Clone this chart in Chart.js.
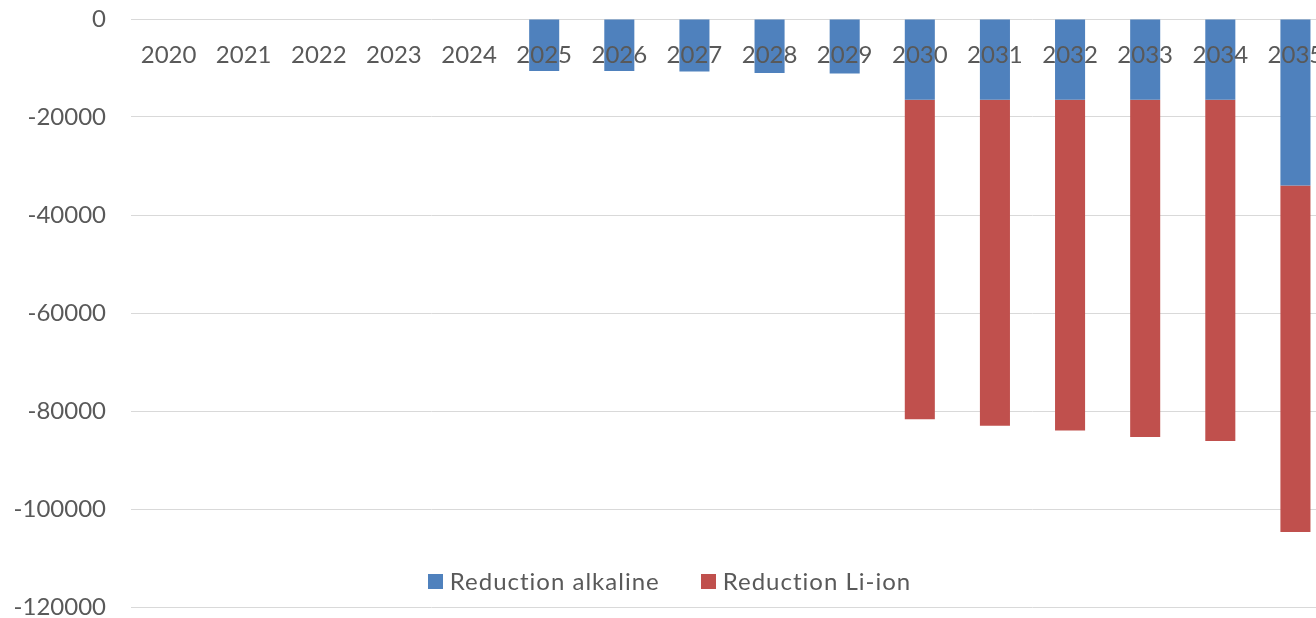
<!DOCTYPE html>
<html>
<head>
<meta charset="utf-8">
<script src="https://cdn.jsdelivr.net/npm/chart.js@4.4.1/dist/chart.umd.min.js"></script>
<style>
  html, body { margin: 0; padding: 0; background: #fff; overflow: hidden; }
  #wrap { position: relative; width: 1333px; height: 618px; }
  #legend { position: absolute; left: 0; width: 1339px; top: 566px; display: flex; justify-content: center; gap: 41px;
            font-family: Lato, "Noto Sans", sans-serif; font-size: 24px; letter-spacing: 1px; color: #595959; line-height: 30px; }
  .item { display: flex; align-items: center; }
  .sw { width: 15px; height: 15px; margin-right: 7px; display: inline-block; }
</style>
</head>
<body>
<div id="wrap">
  <canvas id="c" width="1333" height="618"></canvas>
  <div id="legend"></div>
</div>
<script>
const years = ["2020","2021","2022","2023","2024","2025","2026","2027","2028","2029","2030","2031","2032","2033","2034","2035"];
const reductionAlkaline = [0, 0, 0, 0, 0, -10600, -10600, -10700, -11000, -11100, -16500, -16500, -16500, -16500, -16500, -34000];
const reductionLiIon = [0, 0, 0, 0, 0, 0, 0, 0, 0, 0, -65200, -66500, -67500, -68800, -69600, -70700];
const seriesNames = ["Reduction alkaline", "Reduction Li-ion"];
const seriesColors = ["#4f81bd", "#c0504d"];
const yMin = -120000, yMax = 0, yStep = 20000;

const textColor = "#595959";
const fontFamily = 'Lato, "Noto Sans", sans-serif';

const chart = new Chart(document.getElementById("c"), {
  type: "bar",
  data: {
    labels: years,
    datasets: [
      { label: seriesNames[0], data: reductionAlkaline, backgroundColor: seriesColors[0], barPercentage: 0.4, categoryPercentage: 1.0 },
      { label: seriesNames[1], data: reductionLiIon, backgroundColor: seriesColors[1], barPercentage: 0.4, categoryPercentage: 1.0 }
    ]
  },
  options: {
    responsive: false,
    animation: false,
    layout: { padding: { top: 19, bottom: 11, left: 0, right: 0 } },
    plugins: { legend: { display: false }, tooltip: { enabled: false } },
    scales: {
      x: {
        stacked: true,
        position: { y: 0 },
        grid: { display: false, drawTicks: false },
        border: { display: false },
        ticks: { z: 1, color: textColor, font: { family: fontFamily, size: 24 }, padding: 22, maxRotation: 0, autoSkip: false },
        afterFit: (s) => { s.paddingLeft = 0; s.paddingRight = 0; }
      },
      y: {
        stacked: true,
        min: yMin, max: yMax,
        grid: { color: "#d9d9d9", lineWidth: 1, drawTicks: false },
        border: { display: false },
        ticks: { stepSize: yStep, color: textColor, font: { family: fontFamily, size: 24 }, padding: 25,
                 callback: (v) => String(v) },
        afterFit: (s) => { s.width = 131; s.paddingTop = 0; s.paddingBottom = 0; }
      }
    }
  }
});

const leg = document.getElementById("legend");
chart.data.datasets.forEach(ds => {
  const it = document.createElement("div"); it.className = "item";
  const sw = document.createElement("span"); sw.className = "sw"; sw.style.background = ds.backgroundColor;
  const tx = document.createElement("span"); tx.textContent = ds.label;
  it.appendChild(sw); it.appendChild(tx); leg.appendChild(it);
});
</script>
</body>
</html>
